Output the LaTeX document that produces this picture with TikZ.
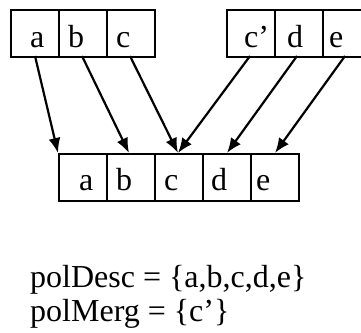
\documentclass[tikz,border=0pt]{standalone}
\usepackage{fontspec}
\setmainfont{Liberation Serif}
\usetikzlibrary{arrows.meta}
\begin{document}
\begin{tikzpicture}[x=1pt,y=-1pt,
  cell/.style={draw, line width=2.2pt, rectangle, minimum width=48pt, minimum height=47pt, inner sep=0pt, anchor=north west},
  lbl/.style={anchor=base west, inner sep=0pt, font=\fontsize{32}{36}\selectfont},
  conn/.style={line width=2.2pt, -{Latex[length=15pt,width=12pt]}},
  txt/.style={anchor=base west, inner sep=0pt, font=\fontsize{32}{36}\selectfont}]
\useasboundingbox (0,0) rectangle (361,332);
\clip (0,0) rectangle (361,332);
% top left group
\node[cell] (ta) at (10,9) {};
\node[cell] (tb) at (58,9) {};
\node[cell] (tc) at (106,9) {};
% top right group
\node[cell] (tcp) at (226,9) {};
\node[cell] (td) at (274,9) {};
\node[cell] (te) at (322,9) {};
% bottom group
\node[cell] (ba) at (58,153) {};
\node[cell] (bb) at (106,153) {};
\node[cell] (bc) at (154,153) {};
\node[cell] (bd) at (202,153) {};
\node[cell] (be) at (250,153) {};
% labels
\node[lbl] (la) at (30,47) {a};
\node[lbl] (lb) at (68,47) {b};
\node[lbl] (lc) at (116,47) {c};
\node[lbl] (lcp) at (244,47) {c’};
\node[lbl] (ld) at (287,47) {d};
\node[lbl] (le) at (329,47) {e};
\node[lbl] (lba) at (79,190) {a};
\node[lbl] (lbb) at (116,190) {b};
\node[lbl] (lbc) at (164,190) {c};
\node[lbl] (lbd) at (211,190) {d};
\node[lbl] (lbe) at (256,190) {e};
% connector end points
\coordinate (sa) at (35,56);
\coordinate (sb) at (82,56);
\coordinate (sc) at (130,56);
\coordinate (scp) at (250,56);
\coordinate (sd) at (297,56);
\coordinate (se) at (345,56);
\coordinate (ea) at (58,153);
\coordinate (eb) at (129,153);
\coordinate (ec) at (178,153);
\coordinate (ed) at (227,153);
\coordinate (ee) at (275,153);
\draw[conn] (sa) -- (ea);
\draw[conn] (sb) -- (eb);
\draw[conn] (sc) -- (ec);
\draw[conn] (scp) -- (ec);
\draw[conn] (sd) -- (ed);
\draw[conn] (se) -- (ee);
% text
\node[txt] (t1) at (30,287) {polDesc = \{a,b,c,d,e\}};
\node[txt] (t2) at (30,321) {polMerg = \{c’\}};
\end{tikzpicture}
\end{document}
